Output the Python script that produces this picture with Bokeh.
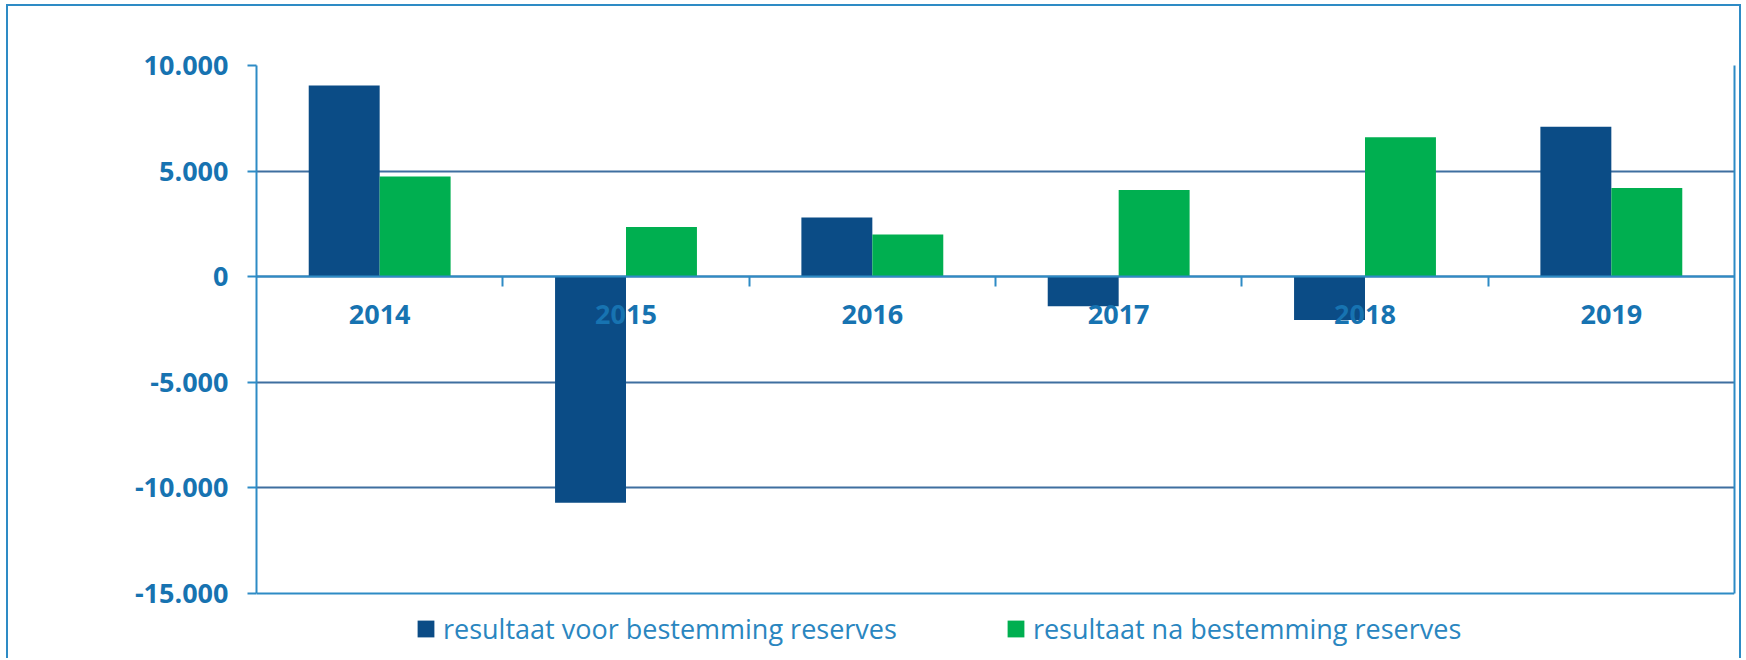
import numpy as np
from bokeh.plotting import figure
from bokeh.models import (Range1d, FixedTicker, Legend, LegendItem, LinearAxis, Grid)
from bokeh.embed import file_html
from bokeh.resources import INLINE

# ---- data ----
years = ["2014", "2015", "2016", "2017", "2018", "2019"]
voor_bestemming = [9050, -10700, 2800, -1400, -2050, 7100]
na_bestemming = [4750, 2350, 2000, 4100, 6600, 4200]
y_ticks = [-15000, -10000, -5000, 0, 5000, 10000]
series_names = ["resultaat voor bestemming reserves", "resultaat na bestemming reserves"]

# ---- style ----
DARK = "#0B4C86"
GREEN = "#00AF50"
AXIS = "#2E8BC5"
GRID = "#3F6FA0"
TXT = "#1773B1"
LEG_TXT = "#2A86C0"
FONT = "Open Sans"

W, H = 1735, 654
TOP = 59            # px above the plot box
BOX_PX = 528        # plot box height in px
frame_px = H - TOP  # frame reaches the bottom so the legend below the box is not clipped
ymin, ymax = y_ticks[0], y_ticks[-1]
units_per_px = (ymax - ymin) / BOX_PX
y_start = ymin - (frame_px - BOX_PX) * units_per_px

n = len(years)
centers = np.arange(n) + 0.5
bounds = list(np.arange(1, n))
bw = 0.288

p = figure(width=W, height=H, output_backend="svg", toolbar_location=None,
           title=None,
           x_range=Range1d(0, n), y_range=Range1d(y_start, ymax),
           min_border_left=248, min_border_right=9, min_border_top=TOP, min_border_bottom=0)
p.styles = {"margin-left": "6px", "margin-top": "4px",
            "border-left": f"2px solid {AXIS}", "border-top": f"2px solid {AXIS}",
            "border-right": f"2px solid {AXIS}"}
p.background_fill_color = "white"
p.border_fill_color = "white"
p.outline_line_color = None

r1 = p.vbar(x=centers - bw / 2, top=voor_bestemming, bottom=0, width=bw,
            fill_color=DARK, line_color=None)
r2 = p.vbar(x=centers + bw / 2, top=na_bestemming, bottom=0, width=bw,
            fill_color=GREEN, line_color=None)

# y axis
yax = p.yaxis[0]
yax.bounds = (ymin, ymax)
yax.ticker = FixedTicker(ticks=y_ticks)
yax.major_label_overrides = {v: f"{v:,}".replace(",", ".") for v in y_ticks}
yax.axis_line_color = AXIS
yax.axis_line_width = 2
yax.major_tick_line_color = AXIS
yax.major_tick_line_width = 2
yax.major_tick_out = 9
yax.major_tick_in = 0
yax.minor_tick_line_color = None
yax.major_label_standoff = 19
yax.major_label_text_font = FONT
yax.major_label_text_font_style = "bold"
yax.major_label_text_font_size = "27px"
yax.major_label_text_color = TXT

p.ygrid.ticker = FixedTicker(ticks=y_ticks[1:-1])
p.ygrid.grid_line_color = GRID
p.ygrid.grid_line_width = 2
p.xgrid.visible = False

# top and bottom edges of the plot box
edge_grid = Grid(dimension=1, ticker=FixedTicker(ticks=[ymin, ymax]),
                 grid_line_color=AXIS, grid_line_width=2)
p.add_layout(edge_grid)

# right edge of the plot box
raxis = LinearAxis(bounds=(ymin, ymax), ticker=FixedTicker(ticks=[]),
                   axis_line_color=AXIS, axis_line_width=2,
                   major_tick_line_color=None, minor_tick_line_color=None,
                   major_tick_out=0, major_tick_in=0, minor_tick_out=0,
                   major_label_standoff=0, major_label_text_font_size="0px")
p.add_layout(raxis, "right")

# x axis crossing at zero
xax = p.xaxis[0]
xax.fixed_location = 0
xax.ticker = FixedTicker(ticks=list(centers), minor_ticks=bounds)
xax.major_label_overrides = {float(c): y for c, y in zip(centers, years)}
xax.axis_line_color = AXIS
xax.axis_line_width = 2
xax.major_tick_line_color = None
xax.major_tick_out = 0
xax.major_tick_in = 0
xax.minor_tick_line_color = AXIS
xax.minor_tick_line_width = 2
xax.minor_tick_out = 10
xax.minor_tick_in = 0
xax.major_label_standoff = 18
xax.major_label_text_font = FONT
xax.major_label_text_font_style = "bold"
xax.major_label_text_font_size = "27px"
xax.major_label_text_color = TXT

legend = Legend(items=[LegendItem(label=series_names[0], renderers=[r1]),
                       LegendItem(label=series_names[1], renderers=[r2])],
                orientation="horizontal", location=(159, 13),
                glyph_width=21, glyph_height=21, label_standoff=7, spacing=108,
                padding=0, margin=0, border_line_color=None, background_fill_alpha=0,
                label_text_font=FONT, label_text_font_size="27px",
                label_text_color=LEG_TXT)
p.add_layout(legend)

open("out.html", "w").write(file_html(p, INLINE))
